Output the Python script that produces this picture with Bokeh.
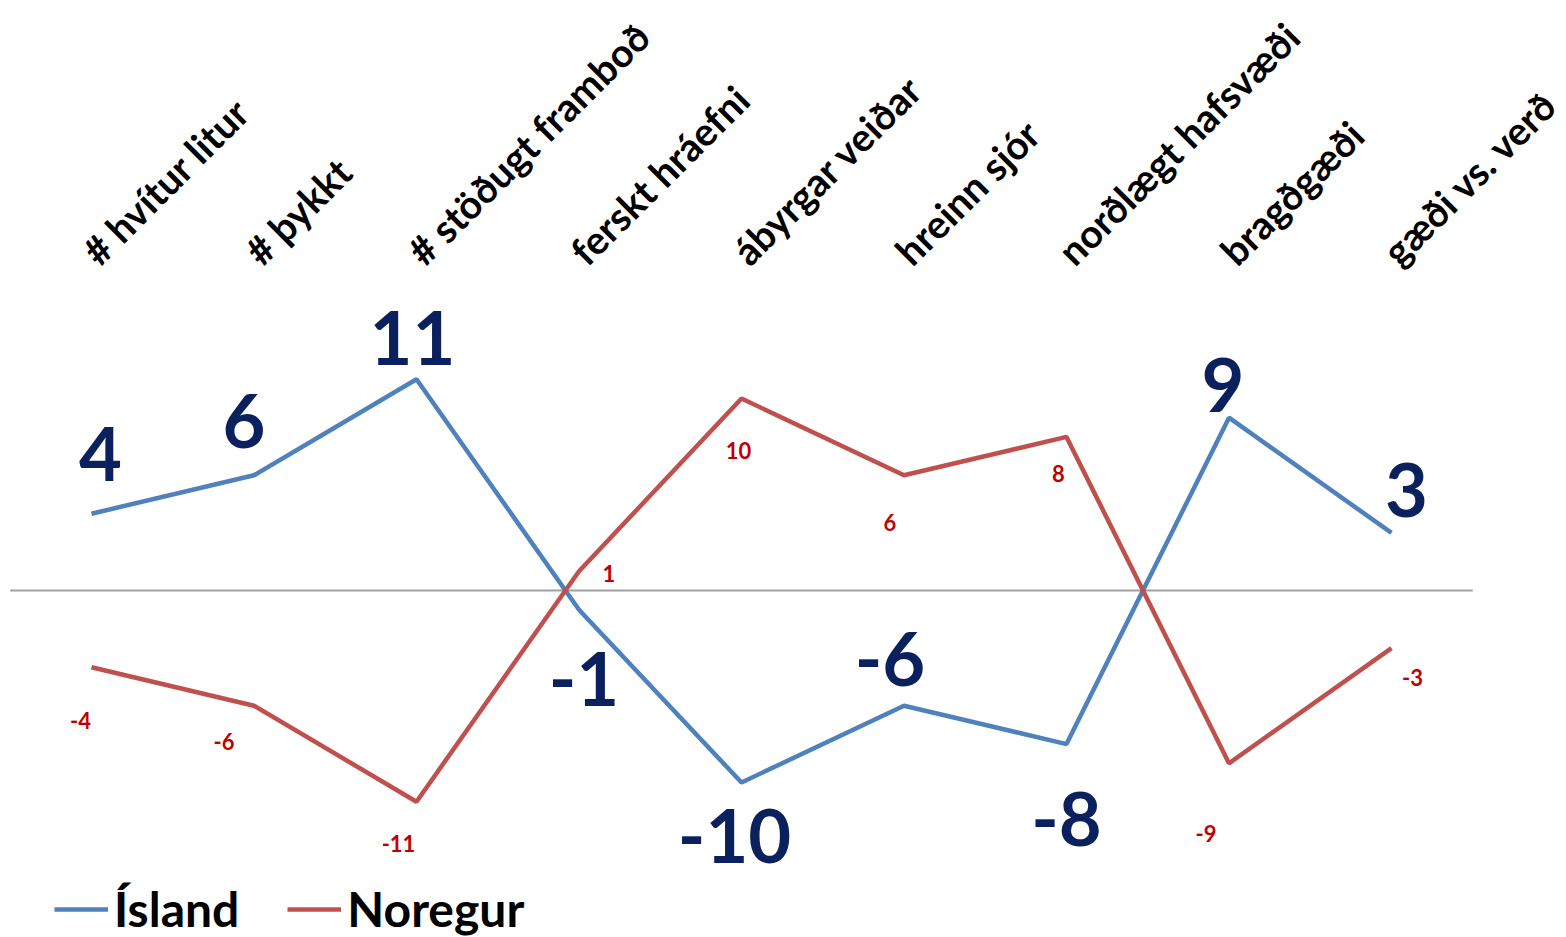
import math
from bokeh.plotting import figure
from bokeh.models import Range1d, ColumnDataSource, Legend, LegendItem
from bokeh.core.properties import value
from bokeh.embed import file_html
from bokeh.resources import INLINE

# ---- data ----
categories = ["# hvítur litur", "# þykkt", "# stöðugt framboð", "ferskt hráefni",
              "ábyrgar veiðar", "hreinn sjór", "norðlægt hafsvæði", "bragðgæði",
              "gæði vs. verð"]
island = [4, 6, 11, -1, -10, -6, -8, 9, 3]
noregur = [-4, -6, -11, 1, 10, 6, 8, -9, -3]

# label offsets in screen pixels (dx right, dy down)
island_dx = [9, -10, -4, 5, -7, -14, 0, -6, 15]
island_dy = [-60, -54, -41, 69, 53, -47, 75, -33, -43]
noregur_dx = [-11, -30, -18, 30, -3, -14, -8, -23, 21]
noregur_dy = [53, 36, 42, 2, 52, 47, 37, 70, 29]

FONT = "Lato"
W, H = 1566, 937
PX_X = 162.5   # px per category
PX_Y = 19.2    # px per unit
x0 = -91 / PX_X
x1 = x0 + W / PX_X
y1 = 590 / PX_Y
y0 = y1 - H / PX_Y

p = figure(width=W, height=H, x_range=Range1d(x0, x1), y_range=Range1d(y0, y1),
           output_backend="svg", toolbar_location=None, min_border=0)
p.xaxis.visible = False
p.yaxis.visible = False
p.xgrid.visible = False
p.ygrid.visible = False
p.outline_line_color = None
p.background_fill_color = "white"

xs = list(range(len(categories)))

# zero line across category band
p.segment(x0=[-0.5], y0=[0], x1=[len(categories) - 0.5], y1=[0],
          line_color="#a0a0a0", line_width=2)

r_is = p.line(xs, island, line_color="#4F81BD", line_width=4.5)
r_no = p.line(xs, noregur, line_color="#C0504D", line_width=4.5)

# category labels (rotated)
LABEL_Y = (590 - 257) / PX_Y
p.text(x=xs, y=[LABEL_Y] * len(xs), text=categories, angle=math.pi / 4,
       text_align="left", text_baseline="alphabetic", x_offset=-2,
       text_font=value(FONT), text_font_style="bold", text_font_size="39px",
       text_color="black")

src_is = ColumnDataSource(dict(x=xs, y=island, t=[str(v) for v in island],
                               dx=island_dx, dy=island_dy))
p.text(x="x", y="y", text="t", x_offset="dx", y_offset="dy", source=src_is,
       text_align="center", text_baseline="middle",
       text_font=value(FONT), text_font_style="bold", text_font_size="74px",
       text_color="#0b215e")

src_no = ColumnDataSource(dict(x=xs, y=noregur, t=[str(v) for v in noregur],
                               dx=noregur_dx, dy=noregur_dy))
p.text(x="x", y="y", text="t", x_offset="dx", y_offset="dy", source=src_no,
       text_align="center", text_baseline="middle",
       text_font=value(FONT), text_font_style="bold", text_font_size="22px",
       text_color="#C00000")

legend = Legend(items=[LegendItem(label="Ísland", renderers=[r_is]),
                       LegendItem(label="Noregur", renderers=[r_no])],
                orientation="horizontal", location=(54, 0),
                glyph_width=54, glyph_height=40, label_standoff=6, spacing=48,
                padding=0, margin=0, border_line_alpha=0, background_fill_alpha=0,
                label_text_font=FONT, label_text_font_style="bold",
                label_text_font_size="48px", label_text_color="black")
p.add_layout(legend)

open("out.html", "w").write(file_html(p, INLINE))
